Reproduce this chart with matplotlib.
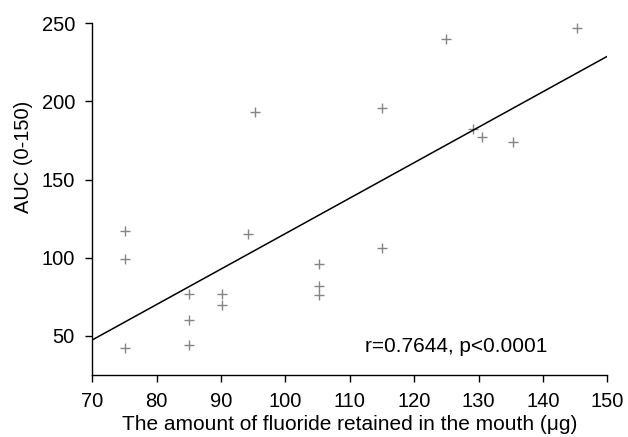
import numpy as np
import matplotlib.pyplot as plt

plt.rcParams['font.family'] = ['Liberation Sans', 'DejaVu Sans']

# Fluoride retained (ug) vs AUC (0-150)
fluoride = [75, 75, 75, 85, 85, 85, 90.2, 90.2, 94.2, 95.2,
            105.2, 105.2, 105.2, 115, 115, 125, 129.2, 130.5, 135.3, 145.3]
auc = [117, 99, 42, 77, 60, 44, 77, 70, 115, 193,
       96, 82, 76, 196, 106, 240, 182, 177, 174, 247]

# regression line end points
fit_x = [70, 150]
fit_y = [47.4, 228.8]

stats_text = 'r=0.7644, p<0.0001'

fig = plt.figure(figsize=(6.28, 4.37), dpi=100)
ax = fig.add_axes([0.147, 0.142, 0.820, 0.805])

ax.plot(fluoride, auc, linestyle='none', marker='+', markersize=7.5,
        markeredgewidth=1.0, color='#858585')
ax.plot(fit_x, fit_y, color='black', linewidth=1.1)

ax.set_xlim(70, 150)
ax.set_ylim(25, 250)
ax.set_xticks(np.arange(70, 151, 10))
ax.set_yticks([50, 100, 150, 200, 250])

for side in ['top', 'right']:
    ax.spines[side].set_visible(False)
for side in ['left', 'bottom']:
    ax.spines[side].set_linewidth(1.0)
ax.tick_params(direction='out', length=5, width=1.0, labelsize=14.5, pad=7.5)

ax.text(112.3, 39.8, stats_text, fontsize=15, va='baseline', ha='left')
ax.set_xlabel('The amount of fluoride retained in the mouth (\u03bcg)',
              fontsize=15, labelpad=3)
fig.text(23.5 / 628, 1 - 157 / 437, 'AUC (0-150)', rotation=90,
         ha='center', va='center', fontsize=14.5)

fig.savefig('out.png', dpi=100)
